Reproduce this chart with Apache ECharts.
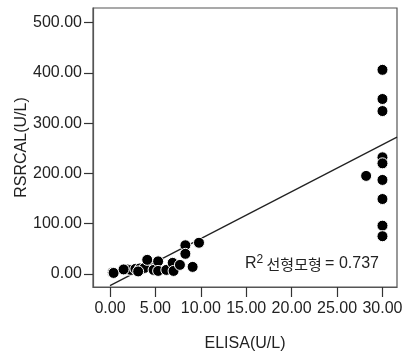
<!DOCTYPE html>
<html><head><meta charset="utf-8">
<script src="https://cdn.jsdelivr.net/npm/echarts@6/dist/echarts.min.js"></script>
<style>html,body{margin:0;padding:0;background:#fff}#c{width:405px;height:354px}</style>
</head><body><div id="c"></div>
<script>
const elisa  = [0.3, 0.4, 2.0, 2.3, 1.5, 2.8, 3.3, 3.8, 3.1, 4.1, 4.8, 5.3, 5.3, 6.2, 6.9, 7.0, 7.7, 8.3, 8.3, 9.1, 9.8, 28.2, 30, 30, 30, 30, 30, 30, 30, 30, 30];
const rsrcal = [3, 2, 9, 8, 9, 10, 11, 12, 5, 28, 8, 25, 6, 8, 22, 6, 18, 57, 40, 14, 62, 195, 406, 348, 324, 232, 220, 187, 149, 96, 75];
const fitX = [0, 31.6];
const fitY = [-23.3, 272];
const xTicks = [0, 5, 10, 15, 20, 25, 30];
const yTicks = [0, 100, 200, 300, 400, 500];
const r2Text = '0.737';

const pts = elisa.map((x, i) => [x, rsrcal[i]]);
const fit = fitX.map((x, i) => [x, fitY[i]]);
const font = 'Liberation Sans, Arial, sans-serif';
const chart = echarts.init(document.getElementById('c'));
chart.setOption({
  animation: false,
  grid: {left: 93, right: 8, top: 8, bottom: 67, containLabel: false, outerBoundsMode: 'none', show: true, borderColor: '#555', borderWidth: 1.2},
  xAxis: {
    type: 'value', min: -1.87, max: 31.6,
    name: 'ELISA(U/L)', nameLocation: 'middle', nameGap: 49, nameMoveOverlap: false,
    nameTextStyle: {fontFamily: font, fontSize: 16, color: '#222'},
    splitLine: {show: false},
    axisLine: {show: true, onZero: false, lineStyle: {color: '#555', width: 1.2}},
    axisTick: {show: true, inside: false, length: 10, customValues: xTicks, lineStyle: {color: '#333', width: 1.2}},
    axisLabel: {customValues: xTicks, margin: 14, fontFamily: font, fontSize: 16, color: '#222', formatter: v => v.toFixed(2)}
  },
  yAxis: {
    type: 'value', min: -26, max: 529,
    name: 'RSRCAL(U/L)', nameLocation: 'middle', nameGap: 63, nameRotate: 90, nameMoveOverlap: false,
    nameTextStyle: {fontFamily: font, fontSize: 16, color: '#222'},
    splitLine: {show: false},
    axisLine: {show: true, onZero: false, lineStyle: {color: '#555', width: 1.2}},
    axisTick: {show: true, inside: false, length: 9, customValues: yTicks, lineStyle: {color: '#333', width: 1.2}},
    axisLabel: {customValues: yTicks, margin: 11, fontFamily: font, fontSize: 16, color: '#222', formatter: v => v.toFixed(2)}
  },
  series: [
    {type: 'line', data: fit, symbol: 'none', lineStyle: {color: '#222', width: 1.3}, z: 2},
    {type: 'scatter', data: pts, symbolSize: 11, itemStyle: {color: '#000', opacity: 1, borderColor: '#fff', borderWidth: 1}, z: 3}
  ],
  graphic: [{
    type: 'text', left: 245, top: 254,
    style: {
      text: '{r|R}{s|2} {k|선형모형} {r|= ' + r2Text + '}',
      rich: {
        r: {fontFamily: font, fontSize: 16, fill: '#222'},
        s: {fontFamily: font, fontSize: 12, fill: '#222', verticalAlign: 'top', padding: [0,0,8,0]},
        k: {fontFamily: 'Noto Sans CJK KR', fontSize: 15, fill: '#222'}
      }
    }
  }]
});
</script></body></html>
